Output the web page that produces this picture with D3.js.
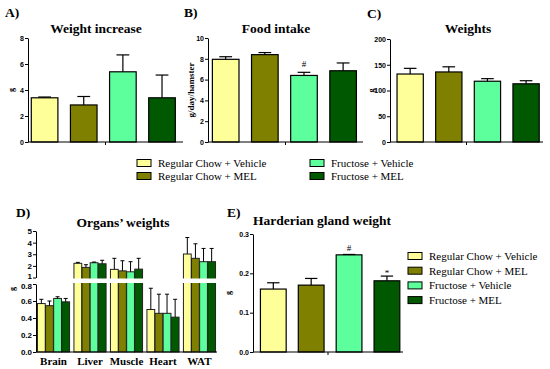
<!DOCTYPE html>
<html>
<head>
<meta charset="utf-8">
<script src="https://cdn.jsdelivr.net/npm/d3@7/dist/d3.min.js"></script>
<style>
    body { margin: 0; background: #fff; }
    svg text { fill: #000; }
    .serif { font-family: "Liberation Serif", "Times New Roman", "DejaVu Serif", serif; }
    .sans { font-family: "Liberation Sans", Arial, sans-serif; }
</style>
</head>
<body>
<div class="chart"></div>
<script>

var groups = ["Regular Chow + Vehicle", "Regular Chow + MEL", "Fructose + Vehicle", "Fructose + MEL"];
var groupColors = ["#ffff99", "#808000", "#5cff9c", "#005800"];

// A) weight increase (g), mean and SEM
var weightIncrease = [3.4, 2.85, 5.4, 3.4];
var weightIncreaseSem = [0.06, 0.65, 1.3, 1.75];
var weightIncreaseTicks = [0, 2, 4, 6, 8];

// B) food intake (g/day/hamster)
var foodIntake = [7.95, 8.4, 6.4, 6.85];
var foodIntakeSem = [0.25, 0.2, 0.3, 0.75];
var foodIntakeTicks = [0, 2, 4, 6, 8, 10];

// C) body weights (g)
var bodyWeights = [132, 136, 118, 113];
var bodyWeightsSem = [11, 10, 5, 6];
var bodyWeightsTicks = [0, 50, 100, 150, 200];

// D) organs' weights (g), one row per organ, one value per group
var organs = ["Brain", "Liver", "Muscle", "Heart", "WAT"];
var organMeans = [
    [0.57, 0.545, 0.63, 0.59],
    [2.22, 1.87, 2.27, 2.18],
    [1.70, 1.57, 1.49, 1.72],
    [0.50, 0.455, 0.455, 0.41],
    [3.02, 2.65, 2.36, 2.36]
];
var organSem = [
    [0.05, 0.055, 0.02, 0.04],
    [0.08, 0.23, 0.06, 0.3],
    [0.95, 0.87, 0.87, 0.93],
    [0.25, 0.225, 0.225, 0.21],
    [1.42, 1.25, 1.14, 1.14]
];
var organLowTicks = [0, 0.2, 0.4, 0.6, 0.8];
var organHighTicks = [1, 2, 3, 4, 5];

// E) harderian gland weight (g)
var harderian = [0.160, 0.170, 0.247, 0.181];
var harderianSem = [0.016, 0.017, 0.001, 0.012];
var harderianTicks = [0, 0.1, 0.2, 0.3];

var svg = d3.select(".chart")
    .append("svg")
    .attr("width", 550)
    .attr("height", 369);

function styleAxis(g, size) {
    g.attr("font-family", null)
        .attr("class", "sans")
        .attr("font-size", size)
        .attr("font-weight", "bold");
    g.selectAll("path, line").attr("stroke", "#000").attr("stroke-width", 1);
}

function serifText(parent, size, bold) {
    return parent.append("text")
        .attr("class", "serif")
        .attr("font-size", size)
        .attr("font-weight", bold ? "bold" : "normal");
}

function barPanel(p) {
    var yScale = d3.scaleLinear()
        .domain([0, p.max])
        .range([p.bottom, p.top]);

    var xScale = d3.scaleBand()
        .domain(groups)
        .range([p.left, p.right])
        .paddingInner(0.32)
        .paddingOuter(0.14)
        .align(p.align);

    var g = svg.append("g");

    g.selectAll("rect")
        .data(p.values)
        .enter()
        .append("rect")
        .attr("x", (d, i) => xScale(groups[i]))
        .attr("y", d => yScale(d))
        .attr("width", xScale.bandwidth())
        .attr("height", d => p.bottom - yScale(d))
        .attr("fill", (d, i) => groupColors[i])
        .attr("stroke", "#000")
        .attr("stroke-width", 1.2);

    // error bars, upper side only
    var cap = xScale.bandwidth() * 0.24;
    p.values.forEach(function (v, i) {
        var cx = xScale(groups[i]) + xScale.bandwidth() / 2;
        var top = yScale(v + p.sem[i]);
        g.append("line")
            .attr("x1", cx).attr("x2", cx)
            .attr("y1", yScale(v)).attr("y2", top)
            .attr("stroke", "#000").attr("stroke-width", 1.2);
        g.append("line")
            .attr("x1", cx - cap).attr("x2", cx + cap)
            .attr("y1", top).attr("y2", top)
            .attr("stroke", "#000").attr("stroke-width", 1.2);
    });

    var leftAxis = d3.axisLeft(yScale)
        .tickValues(p.ticks)
        .tickSize(3)
        .tickSizeOuter(0)
        .tickPadding(1)
        .tickFormat(p.format || d3.format("d"));

    var axisG = g.append("g")
        .attr("transform", `translate(${p.left}, 0)`)
        .call(leftAxis);
    styleAxis(axisG, 7);

    // x axis line with the small middle tick
    g.append("line")
        .attr("x1", p.left).attr("x2", p.right)
        .attr("y1", p.bottom).attr("y2", p.bottom)
        .attr("stroke", "#000").attr("stroke-width", 1.2);
    g.append("line")
        .attr("x1", (p.left + p.right) / 2).attr("x2", (p.left + p.right) / 2)
        .attr("y1", p.bottom).attr("y2", p.bottom + 3)
        .attr("stroke", "#000").attr("stroke-width", 1);

    // letter and title
    serifText(g, 13.5, true)
        .attr("x", p.letterX).attr("y", p.letterY)
        .text(p.letter);
    serifText(g, 13.5, true)
        .attr("x", p.titleX).attr("y", p.titleY)
        .attr("text-anchor", "middle")
        .text(p.title);

    serifText(g, p.labelSize || 8, true)
        .attr("transform", `translate(${p.labelX}, ${(p.top + p.bottom) / 2}) rotate(-90)`)
        .attr("text-anchor", "middle")
        .text(p.label);

    // significance marks
    (p.marks || []).forEach(function (m) {
        var cx = xScale(groups[m.index]) + xScale.bandwidth() / 2;
        serifText(g, 9, false)
            .attr("x", cx)
            .attr("y", yScale(p.values[m.index] + p.sem[m.index]) - m.gap)
            .attr("text-anchor", "middle")
            .text(m.text);
    });
}

barPanel({
    values: weightIncrease, sem: weightIncreaseSem, ticks: weightIncreaseTicks, max: 8,
    left: 28, right: 183, top: 38, bottom: 142, align: 0.3,
    letter: "A)", letterX: 5, letterY: 17,
    title: "Weight increase", titleX: 96, titleY: 33,
    label: "g", labelX: 14
});

barPanel({
    values: foodIntake, sem: foodIntakeSem, ticks: foodIntakeTicks, max: 10,
    left: 208, right: 363, top: 38, bottom: 142, align: 0.4,
    letter: "B)", letterX: 184, letterY: 17,
    title: "Food intake", titleX: 276, titleY: 33,
    label: "g/day/hamster", labelX: 194, labelSize: 9,
    marks: [{ index: 2, text: "#", gap: 5 }]
});

barPanel({
    values: bodyWeights, sem: bodyWeightsSem, ticks: bodyWeightsTicks, max: 200,
    left: 390, right: 543, top: 39, bottom: 142, align: 0.65,
    letter: "C)", letterX: 367, letterY: 18,
    title: "Weights", titleX: 468, titleY: 33,
    label: "g", labelX: 374
});

barPanel({
    values: harderian, sem: harderianSem, ticks: harderianTicks, max: 0.3,
    left: 253, right: 403, top: 234, bottom: 352, align: 0.7,
    format: d3.format(".1f"),
    letter: "E)", letterX: 227, letterY: 217,
    title: "Harderian gland weight", titleX: 322, titleY: 225,
    label: "g", labelX: 231,
    marks: [{ index: 2, text: "#", gap: 3 }, { index: 3, text: "*", gap: 0 }]
});

// D) organs with a broken y axis
var organBottom = 352;
var yLow = d3.scaleLinear().domain([0, 0.8]).range([organBottom, 284]);
var yHigh = d3.scaleLinear().domain([1, 5]).range([277.5, 231]);
function yOrgan(v) {
    return v <= 0.8 ? yLow(v) : yHigh(v);
}

var x0 = d3.scaleBand()
    .domain(organs)
    .range([36, 217])
    .paddingInner(0.12)
    .paddingOuter(0.04);

var x1 = d3.scaleBand()
    .domain(groups)
    .range([0, x0.bandwidth()])
    .paddingInner(0.04);

var organG = svg.append("g");

var organGroups = organG.selectAll(".organ")
    .data(organs)
    .enter()
    .append("g")
    .attr("class", "organ")
    .attr("transform", d => `translate(${x0(d)}, 0)`);

organGroups.selectAll("rect")
    .data((d, i) => organMeans[i].map((v, j) => ({ v: v, sem: organSem[i][j], j: j })))
    .enter()
    .append("rect")
    .attr("x", d => x1(groups[d.j]))
    .attr("y", d => yOrgan(d.v))
    .attr("width", x1.bandwidth())
    .attr("height", d => organBottom - yOrgan(d.v))
    .attr("fill", d => groupColors[d.j])
    .attr("stroke", "#222")
    .attr("stroke-width", 1);

organGroups.selectAll(".err")
    .data((d, i) => organMeans[i].map((v, j) => ({ v: v, sem: organSem[i][j], j: j })))
    .enter()
    .append("path")
    .attr("class", "err")
    .attr("d", function (d) {
        var cx = x1(groups[d.j]) + x1.bandwidth() / 2;
        var top = yOrgan(d.v + d.sem);
        return `M${cx},${yOrgan(d.v)}V${top}M${cx - 2},${top}H${cx + 2}`;
    })
    .attr("fill", "none")
    .attr("stroke", "#000")
    .attr("stroke-width", 1);

// white band hiding the break
organG.append("rect")
    .attr("x", 33).attr("y", 278.5)
    .attr("width", 186).attr("height", 4.5)
    .attr("fill", "#fff");

var lowAxis = organG.append("g")
    .attr("transform", "translate(36, 0)")
    .call(d3.axisLeft(yLow).tickValues(organLowTicks).tickSize(3).tickSizeOuter(0).tickPadding(1).tickFormat(d3.format(".1f")));
styleAxis(lowAxis, 8);

var highAxis = organG.append("g")
    .attr("transform", "translate(36, 0)")
    .call(d3.axisLeft(yHigh).tickValues(organHighTicks).tickSize(3).tickSizeOuter(0).tickPadding(1).tickFormat(d3.format("d")));
styleAxis(highAxis, 8);
// nudge "1" and "0.8" apart at the break
highAxis.selectAll(".tick text").filter(d => d === 1).attr("dy", "0.15em");
lowAxis.selectAll(".tick text").filter(d => d === 0.8).attr("dy", "0.5em");

organG.append("line")
    .attr("x1", 36).attr("x2", 217)
    .attr("y1", organBottom).attr("y2", organBottom)
    .attr("stroke", "#000").attr("stroke-width", 1.2);

organG.selectAll(".organLabel")
    .data(organs)
    .enter()
    .append("text")
    .attr("class", "organLabel serif")
    .attr("x", d => x0(d) + x0.bandwidth() / 2)
    .attr("y", 365)
    .attr("text-anchor", "middle")
    .attr("font-weight", "bold").attr("font-size", 11)
    .text(d => d);

serifText(organG, 13.5, true)
    .attr("x", 16).attr("y", 217)
    .text("D)");

serifText(organG, 13.5, true)
    .attr("x", 123).attr("y", 227)
    .attr("text-anchor", "middle")
    .text("Organs\u2019 weights");

serifText(organG, 8, true)
    .attr("transform", "translate(15, 289) rotate(-90)")
    .attr("text-anchor", "middle")
    .text("g");

// legends
function legend(items, x, y, dy) {
    var lg = svg.append("g").attr("transform", `translate(${x}, ${y})`);
    var rows = lg.selectAll("g")
        .data(items)
        .enter()
        .append("g")
        .attr("transform", (d, i) => `translate(0, ${i * dy})`);
    rows.append("rect")
        .attr("x", 0).attr("y", -3.5)
        .attr("width", 14).attr("height", 7)
        .attr("fill", d => groupColors[groups.indexOf(d)])
        .attr("stroke", "#000").attr("stroke-width", 1);
    rows.append("text")
        .attr("class", "serif")
        .attr("x", 21).attr("y", 0)
        .attr("dy", "0.35em")
        .attr("font-size", 11)
        .text(d => d);
}

legend(groups.slice(0, 2), 137, 163, 13);
legend(groups.slice(2, 4), 310, 163, 13);
legend(groups, 408, 256, 14.7);

</script>
</body>
</html>
